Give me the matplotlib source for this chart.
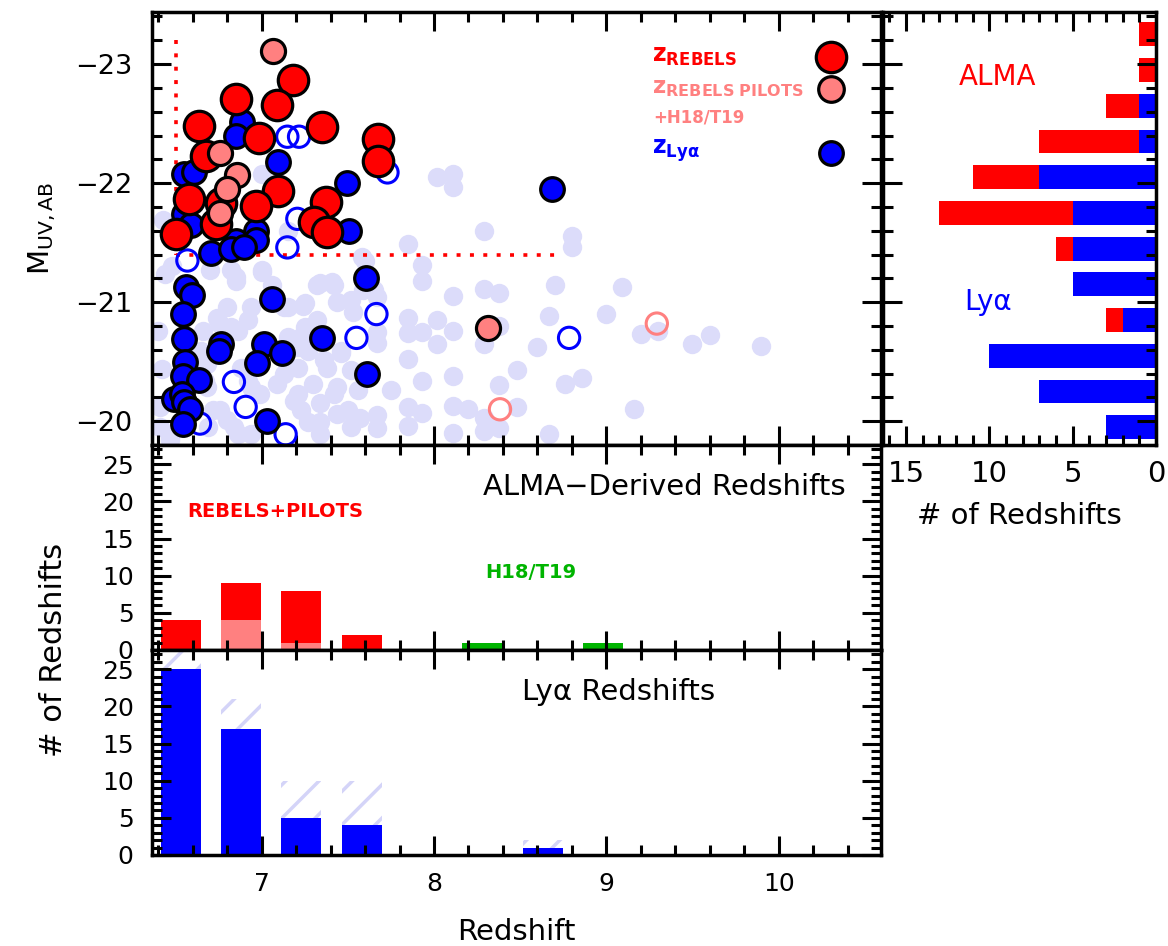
import matplotlib
matplotlib.use('Agg')
import matplotlib.pyplot as plt
from matplotlib.ticker import MultipleLocator

plt.rcParams['font.family'] = ['DejaVu Sans']
plt.rcParams['mathtext.fontset'] = 'dejavusans'
plt.rcParams['hatch.linewidth'] = 2.5

RED = '#ff0000'
PINK = '#ff8080'
BLUE = '#0000ff'
LAV = '#dcdcfa'
GREEN = '#00b400'

# REBELS spectroscopic (ALMA) redshifts
z_rebels = [6.636, 6.849, 7.182, 7.087, 7.352, 6.984, 7.677, 7.677, 6.675, 6.578,
            7.095, 6.969, 7.371, 7.304, 7.381, 6.501, 6.733, 6.762]
m_rebels = [-22.48, -22.71, -22.87, -22.66, -22.47, -22.38, -22.37, -22.19, -22.23, -21.87,
            -21.93, -21.81, -21.84, -21.67, -21.59, -21.57, -21.66, -21.83]

# pilots + H18/T19
z_pilots = [7.066, 6.756, 6.855, 6.801, 6.756, 8.313]
m_pilots = [-23.11, -22.25, -22.07, -21.95, -21.75, -20.78]
z_pilots_open = [8.383, 9.293]
m_pilots_open = [-20.10, -20.82]

# Lya redshifts (filled)
z_lya = [6.888, 6.849, 7.097, 6.549, 6.607, 7.497, 8.687, 6.549, 6.588, 7.507,
         6.965, 6.965, 6.849, 6.704, 6.820, 6.897, 7.604, 6.559, 6.598, 7.058,
         6.543, 6.549, 6.762, 6.752, 7.352, 7.013, 7.116, 6.975, 6.555, 6.546,
         6.636, 7.613, 6.491, 6.540, 6.549, 6.582, 6.546, 7.033]
m_lya = [-22.51, -22.40, -22.18, -22.08, -22.09, -22.00, -21.95, -21.74, -21.65, -21.60,
         -21.60, -21.52, -21.51, -21.41, -21.45, -21.46, -21.20, -21.13, -21.06, -21.03,
         -20.90, -20.69, -20.65, -20.59, -20.70, -20.65, -20.57, -20.49, -20.50, -20.38,
         -20.35, -20.40, -20.19, -20.23, -20.16, -20.10, -19.98, -20.00]

# Lya redshifts (open)
z_lya_open = [7.149, 7.217, 7.730, 7.207, 7.149, 6.569, 7.666, 7.550, 8.784, 6.839,
              6.907, 6.642, 7.139]
m_lya_open = [-22.39, -22.39, -22.09, -21.70, -21.46, -21.35, -20.90, -20.70, -20.70, -20.33,
              -20.12, -19.98, -19.89]

# photometric candidates (background)
z_phot = [8.02, 8.11, 8.11, 8.29, 7.85, 8.80, 8.80, 7.93, 7.93, 8.11,
          8.29, 8.38, 8.70, 9.09, 7.85, 8.02, 7.85, 7.93, 8.11, 8.02,
          8.38, 8.29, 8.67, 9.00, 8.60, 7.85, 7.93, 8.11, 8.48, 7.75,
          8.38, 8.76, 8.86, 7.85, 7.93, 8.11, 8.20, 8.48, 8.29, 7.67,
          7.67, 7.85, 8.11, 8.29, 8.38, 8.67, 7.67, 7.67, 7.67, 7.60,
          9.20, 9.30, 9.50, 9.60, 9.90, 9.16,
          6.44, 6.70, 6.85, 7.00, 7.06, 6.80, 6.94, 6.76, 6.86, 7.24,
          7.32, 7.41, 7.44, 7.53, 7.59, 6.40, 6.42, 6.67, 6.88, 6.94,
          7.21, 7.25, 7.36, 7.46, 7.52, 7.44, 7.56, 7.21, 7.34, 7.44,
          7.52, 7.27, 6.76, 6.69, 6.84, 6.94, 6.41, 6.41, 6.47, 6.99,
          7.09, 7.13, 6.65, 6.92, 7.32, 7.13,
          6.43, 6.48, 7.00, 7.15, 7.58, 6.82, 6.85, 7.00, 7.34, 7.42,
          7.52, 7.65, 7.15, 7.25, 6.74, 6.82, 6.66, 7.15, 7.23, 7.27,
          7.46, 7.38, 6.90, 6.92, 6.68, 6.68, 7.13, 7.21, 7.30, 7.42,
          7.50, 7.57, 7.34, 7.34, 7.19, 7.23, 6.72, 6.80, 6.86, 6.47]
m_phot = [-22.05, -22.08, -21.97, -21.60, -21.49, -21.56, -21.46, -21.31, -21.18, -21.05,
          -21.11, -21.08, -21.14, -21.13, -20.87, -20.85, -20.74, -20.75, -20.76, -20.65,
          -20.80, -20.65, -20.88, -20.90, -20.62, -20.52, -20.34, -20.38, -20.43, -20.26,
          -20.30, -20.31, -20.36, -20.12, -20.07, -20.13, -20.10, -20.12, -20.03, -20.05,
          -19.94, -19.96, -19.90, -19.92, -19.94, -19.89, -21.04, -20.75, -20.66, -21.35,
          -20.73, -20.76, -20.65, -20.72, -20.63, -20.10,
          -21.24, -21.27, -21.21, -21.25, -21.14, -20.96, -20.96, -20.82, -20.76, -20.97,
          -21.14, -21.17, -21.00, -20.92, -21.10, -20.76, -20.44, -20.34, -20.45, -20.29,
          -20.62, -20.79, -20.51, -20.59, -20.43, -20.29, -20.26, -20.23, -20.15, -20.06,
          -19.95, -19.99, -20.09, -19.95, -19.95, -19.89, -20.12, -19.95, -19.84, -20.23,
          -20.31, -20.54, -20.59, -20.85, -20.85, -20.96,
          -21.69, -21.30, -22.08, -21.60, -21.38, -21.27, -21.18, -21.27, -21.16, -21.14,
          -21.02, -21.10, -20.96, -20.99, -20.87, -20.79, -20.76, -20.71, -20.71, -20.59,
          -20.57, -20.45, -20.45, -20.34, -20.48, -20.29, -20.40, -20.45, -20.31, -20.23,
          -20.09, -20.03, -19.99, -19.89, -20.17, -20.09, -20.09, -20.01, -19.89, -19.87]

# redshift histograms
z_bins = [6.53, 6.88, 7.23, 7.58, 7.93, 8.28, 8.63, 8.98]
n_rebels_pilots = [4, 9, 8, 2, 0, 0, 0, 0]
n_pilots = [0, 4, 1, 0, 0, 0, 0, 0]
n_h18 = [0, 0, 0, 0, 0, 1, 0, 1]
n_lya = [25, 17, 5, 4, 0, 0, 1, 0]
n_lya_all = [29, 21, 10, 10, 0, 0, 2, 0]

# magnitude histogram
m_bins = [-23.25, -22.95, -22.65, -22.35, -22.05, -21.75, -21.45, -21.15, -20.85, -20.55, -20.25, -19.95]
nm_lya = [0, 0, 1, 1, 7, 5, 5, 5, 2, 10, 7, 3]
nm_alma = [1, 1, 2, 6, 4, 8, 1, 0, 1, 0, 0, 0]


def style(ax, xmaj, xmin, ymaj, ymin):
    ax.xaxis.set_major_locator(MultipleLocator(xmaj))
    ax.xaxis.set_minor_locator(MultipleLocator(xmin))
    ax.yaxis.set_major_locator(MultipleLocator(ymaj))
    ax.yaxis.set_minor_locator(MultipleLocator(ymin))
    ax.tick_params(which='both', direction='in', top=True, right=True, width=2.2)
    ax.tick_params(which='major', length=14)
    ax.tick_params(which='minor', length=7)
    for s in ax.spines.values():
        s.set_linewidth(2.5)


fig = plt.figure(figsize=(11.68, 9.46), dpi=100)
ax_sc = fig.add_axes([0.1299, 0.5296, 0.6244, 0.4580])
ax_mid = fig.add_axes([0.1299, 0.3129, 0.6244, 0.2167])
ax_bot = fig.add_axes([0.1299, 0.0962, 0.6244, 0.2167])
ax_r = fig.add_axes([0.7563, 0.5296, 0.2334, 0.4580])

XLIM = (6.362, 10.594)
YLIM = (-19.80, -23.44)

# --- scatter
ax_sc.scatter(z_phot, m_phot, s=195, color=LAV, lw=0, zorder=1)
ax_sc.plot([6.5, 6.5], [-23.2, -21.4], color=RED, lw=2.6, ls=(0, (1.1, 2.6)), zorder=2)
ax_sc.plot([6.5, 8.7], [-21.4, -21.4], color=RED, lw=2.6, ls=(0, (1.1, 2.6)), zorder=2)
ax_sc.scatter(z_lya_open, m_lya_open, s=235, facecolor='none', edgecolor=BLUE, lw=2.2, zorder=3)
ax_sc.scatter(z_pilots_open, m_pilots_open, s=235, facecolor='none', edgecolor=PINK, lw=2.2, zorder=3)
ax_sc.scatter(z_lya, m_lya, s=290, color=BLUE, edgecolor='black', lw=2.3, zorder=4)
ax_sc.scatter(z_rebels, m_rebels, s=480, color=RED, edgecolor='black', lw=2.3, zorder=5)
ax_sc.scatter(z_pilots, m_pilots, s=300, color=PINK, edgecolor='black', lw=2.3, zorder=6)

# legend
ax_sc.scatter([0.9315], [0.896], s=480, color=RED, edgecolor='black', lw=2.3,
              transform=ax_sc.transAxes, zorder=7)
ax_sc.scatter([0.9315], [0.821], s=340, color=PINK, edgecolor='black', lw=2.3,
              transform=ax_sc.transAxes, zorder=7)
ax_sc.scatter([0.9315], [0.673], s=290, color=BLUE, edgecolor='black', lw=2.3,
              transform=ax_sc.transAxes, zorder=7)
ax_sc.text(9.265, -23.065, r'$\mathbf{z_{REBELS}}$', color=RED, fontsize=17, va='center')
ax_sc.text(9.265, -22.80, r'$\mathbf{z_{REBELS\ PILOTS}}$', color=PINK, fontsize=16.5, va='center')
ax_sc.text(9.27, -22.55, '+H18/T19', color=PINK, fontsize=12, fontweight='bold', va='center')
ax_sc.text(9.265, -22.27, r'$\mathbf{z_{Ly\alpha}}$', color=BLUE, fontsize=17, va='center')

ax_sc.set_xlim(*XLIM)
ax_sc.set_ylim(*YLIM)
style(ax_sc, 1, 0.2, 1, 0.2)
ax_sc.tick_params(labelbottom=False, labelsize=19.5)
ax_sc.tick_params(axis='y', pad=14)
ax_sc.set_ylabel(r'$\mathrm{M_{UV,AB}}$', fontsize=21, labelpad=12)

# --- right histogram
ax_r.barh(m_bins, nm_lya, height=0.2, color=BLUE, lw=0)
ax_r.barh(m_bins, nm_alma, left=nm_lya, height=0.2, color=RED, lw=0)
ax_r.set_xlim(16.36, 0)
ax_r.set_ylim(*YLIM)
style(ax_r, 5, 1, 1, 0.2)
ax_r.tick_params(labelleft=False, labelsize=21)
ax_r.tick_params(axis='x', pad=11)
ax_r.set_xlabel('# of Redshifts', fontsize=21, labelpad=10)
ax_r.text(9.5, -22.89, 'ALMA', color=RED, fontsize=20, ha='center', va='center')
ax_r.text(10.1, -21.0, 'Ly\u03b1', color=BLUE, fontsize=20, ha='center', va='center')

# --- ALMA redshift histogram
ax_mid.bar(z_bins, n_rebels_pilots, width=0.232, color=RED, lw=0)
ax_mid.bar(z_bins, n_pilots, width=0.232, color=PINK, lw=0)
ax_mid.bar(z_bins, n_h18, width=0.232, color=GREEN, lw=0)
ax_mid.set_xlim(*XLIM)
ax_mid.set_ylim(0, 27.6)
style(ax_mid, 1, 0.2, 5, 1)
ax_mid.tick_params(labelbottom=False, labelsize=18)
ax_mid.tick_params(axis='y', pad=13)
ax_mid.text(10.39, 21.9, 'ALMA\u2212Derived Redshifts', fontsize=21, ha='right', va='center')
ax_mid.text(6.567, 18.6, 'REBELS+PILOTS', color=RED, fontsize=14, fontweight='bold', va='center')
ax_mid.text(8.296, 10.5, 'H18/T19', color=GREEN, fontsize=14, fontweight='bold', va='center')

# --- Lya redshift histogram
ax_bot.bar(z_bins, n_lya_all, width=0.232, facecolor='none', edgecolor='#d4d4f8', hatch='/', lw=0)
ax_bot.bar(z_bins, n_lya, width=0.232, color=BLUE, lw=0)
ax_bot.set_xlim(*XLIM)
ax_bot.set_ylim(0, 27.6)
style(ax_bot, 1, 0.2, 5, 1)
ax_bot.tick_params(labelsize=18)
ax_bot.tick_params(axis='y', pad=13)
ax_bot.tick_params(axis='x', pad=12)
ax_bot.set_xlabel('Redshift', fontsize=21, labelpad=16)
ax_bot.text(8.51, 22.0, 'Ly\u03b1 Redshifts', fontsize=21, ha='left', va='center')

fig.text(0.046, 0.313, '# of Redshifts', fontsize=22, rotation=90, ha='center', va='center')

fig.savefig('out.png', dpi=100)
